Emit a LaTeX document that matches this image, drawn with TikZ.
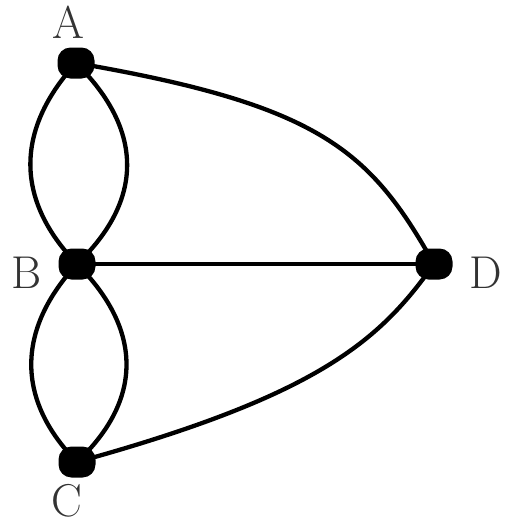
\documentclass[tikz,border=0pt]{standalone}
\usetikzlibrary{calc}
\begin{document}
\begin{tikzpicture}[x=1pt,y=-1pt,
  vert/.style={fill=black,draw=none,rounded corners=13pt,minimum width=37pt,minimum height=31pt,inner sep=0pt},
  lab/.style={font=\fontsize{46}{46}\selectfont,text=black!80,inner sep=0pt},
  edge/.style={line width=4.3pt}]
\useasboundingbox (0,0) rectangle (506,528);
\node[vert] (A) at (76,63) {};
\node[vert] (B) at (77,264) {};
\node[vert] (C) at (77,462) {};
\node[vert] (D) at (434,264) {};
\node[lab] (lA) at (68,22) {A};
\node[lab] (lB) at (27,273) {B};
\node[lab] (lC) at (67,501) {C};
\node[lab] (lD) at (486,273) {D};
\draw[edge] (A.center) .. controls (15,130) and (15,200) .. (B.center);
\draw[edge] (A.center) .. controls (144,130) and (144,200) .. (B.center);
\draw[edge] (B.center) .. controls (16,330) and (16,400) .. (C.center);
\draw[edge] (B.center) .. controls (143,330) and (143,400) .. (C.center);
\draw[edge] (B.center) -- (D.center);
\draw[edge] (A.center) .. controls (320,105) and (370,150) .. (D.center);
\draw[edge] (C.center) .. controls (320,395) and (380,340) .. (D.center);
\end{tikzpicture}
\end{document}
